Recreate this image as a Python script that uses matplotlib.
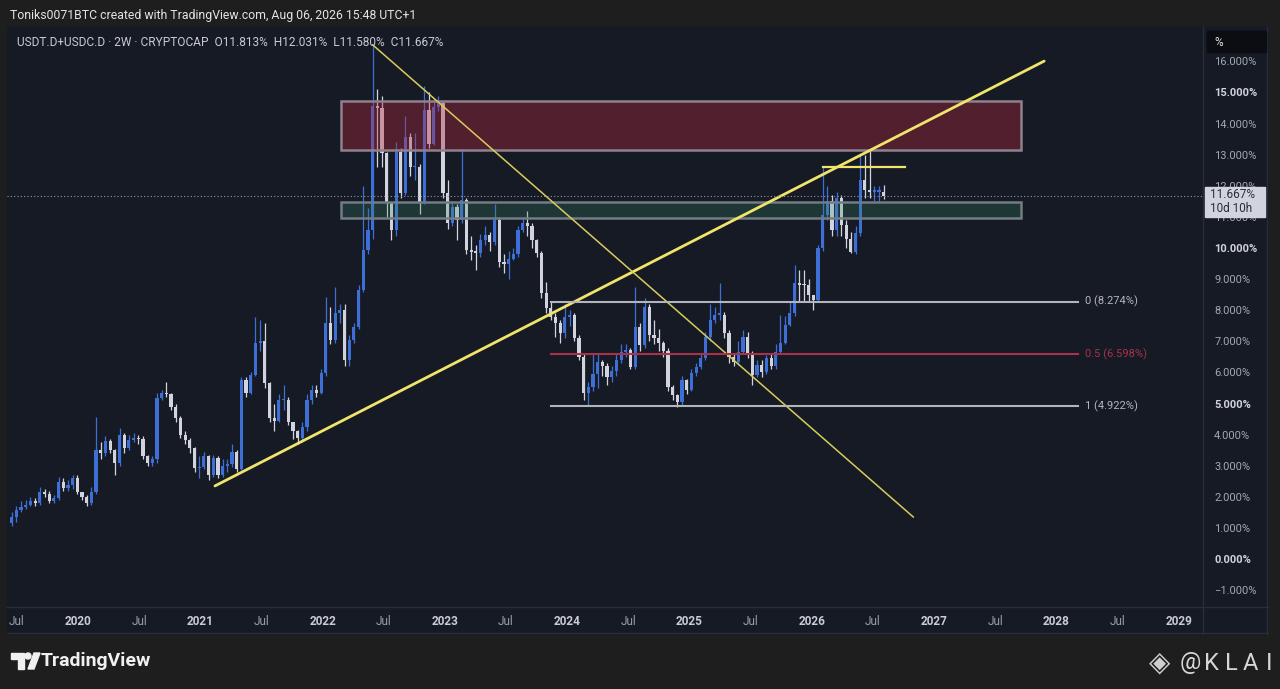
import numpy as np
import pandas as pd
import matplotlib
matplotlib.use("Agg")
import matplotlib.pyplot as plt
from matplotlib.patches import Rectangle, Polygon, Ellipse
from matplotlib.lines import Line2D

plt.rcParams['font.family'] = ['Roboto', 'DejaVu Sans']

# USDT.D + USDC.D, 2W candles (values in %)
first_open = 1.15
close = [
    1.36, 1.58, 1.68, 1.75, 1.85, 1.79, 2.17, 2.10, 1.85, 1.95,
    2.49, 2.27, 2.38, 2.62, 2.17, 2.00, 1.80, 2.17, 3.50, 3.40,
    3.80, 3.50, 3.10, 3.99, 3.56, 3.83, 3.90, 3.85, 3.30, 3.10,
    3.20, 5.17, 5.33, 5.30, 4.90, 4.52, 3.99, 3.83, 3.56, 2.92,
    2.95, 3.30, 2.70, 3.24, 2.70, 3.00, 3.05, 3.45, 2.90, 5.75,
    5.33, 5.92, 6.93, 7.00, 5.65, 4.52, 4.45, 5.10, 5.10, 4.42,
    4.10, 3.90, 4.25, 5.10, 5.44, 5.35, 5.97, 7.58, 7.04, 7.90,
    8.00, 6.40, 7.04, 7.47, 8.65, 9.93, 10.58, 14.55, 14.49, 13.04,
    11.44, 10.58, 13.10, 11.76, 13.58, 12.60, 12.60, 11.44, 14.44, 13.36,
    14.54, 14.65, 11.76, 10.79, 11.33, 10.90, 11.54, 9.93, 9.87, 9.85,
    10.26, 10.42, 10.20, 10.90, 9.56, 9.50, 9.65, 9.80, 10.58, 10.80,
    10.70, 10.26, 9.83, 8.54, 8.06, 7.79, 7.60, 7.26, 7.79, 7.85,
    7.10, 6.50, 5.33, 5.54, 5.95, 6.34, 6.20, 5.86, 6.05, 6.40,
    6.66, 6.72, 6.18, 7.47, 6.88, 8.11, 7.20, 7.10, 6.93, 6.70,
    5.54, 5.27, 5.06, 5.76, 5.45, 5.97, 6.18, 6.45, 7.15, 7.68,
    7.85, 7.85, 7.26, 6.50, 6.34, 6.66, 7.15, 6.60, 5.92, 6.23,
    6.00, 6.45, 6.20, 6.66, 6.93, 7.53, 7.90, 8.86, 8.82, 8.80,
    8.49, 8.33, 9.99, 11.06, 11.50, 10.58, 11.60, 10.74, 10.30, 9.88,
    10.47, 12.19, 11.87, 11.80, 11.80, 11.813, 11.667,
]
high = [
    1.50, 1.70, 1.85, 1.90, 2.00, 1.95, 2.30, 2.25, 2.20, 2.05,
    2.65, 2.60, 2.55, 2.70, 2.70, 2.15, 2.05, 2.30, 4.58, 3.75,
    3.95, 3.85, 3.55, 4.20, 4.05, 4.00, 4.05, 4.00, 3.95, 3.35,
    3.30, 5.33, 5.45, 5.70, 5.35, 5.00, 4.60, 4.10, 3.90, 3.60,
    3.30, 3.45, 3.35, 3.35, 3.30, 3.20, 3.20, 3.70, 3.50, 5.85,
    5.85, 6.00, 7.79, 7.70, 7.60, 5.70, 5.00, 5.30, 5.60, 5.20,
    4.40, 4.15, 4.40, 5.30, 5.60, 5.60, 6.10, 8.43, 8.10, 8.76,
    8.20, 8.20, 7.20, 7.60, 8.80, 12.00, 11.30, 16.50, 15.10, 14.90,
    13.10, 11.40, 13.40, 13.20, 14.25, 13.70, 13.70, 12.70, 15.20, 15.00,
    14.80, 14.90, 14.70, 12.20, 11.50, 11.40, 13.15, 11.60, 10.40, 10.10,
    10.45, 10.70, 10.50, 11.40, 11.00, 9.80, 9.90, 10.00, 10.70, 11.00,
    11.20, 10.80, 10.30, 9.90, 8.90, 8.30, 7.90, 7.70, 8.20, 8.00,
    7.90, 7.20, 6.60, 5.70, 6.60, 6.60, 6.40, 6.30, 6.20, 6.60,
    6.90, 6.90, 6.80, 8.76, 7.60, 8.40, 8.20, 7.70, 7.40, 7.00,
    6.80, 5.60, 5.30, 5.90, 5.80, 6.10, 6.30, 6.60, 7.30, 8.20,
    8.10, 8.86, 7.95, 7.35, 6.60, 7.00, 7.35, 7.30, 6.70, 6.40,
    6.40, 6.55, 6.60, 6.90, 7.85, 7.80, 8.30, 9.45, 9.30, 9.30,
    9.00, 8.50, 10.10, 12.62, 12.00, 11.70, 11.80, 11.70, 10.90, 10.50,
    10.70, 12.99, 13.00, 13.15, 12.00, 12.00, 12.031,
]
low = [
    1.05, 1.20, 1.50, 1.60, 1.70, 1.70, 1.75, 2.00, 1.80, 1.80,
    1.90, 2.20, 2.20, 2.25, 2.10, 1.90, 1.70, 1.75, 2.10, 3.20,
    3.30, 3.40, 2.70, 3.00, 3.40, 3.50, 3.75, 3.70, 3.20, 3.00,
    3.00, 3.10, 5.10, 5.20, 4.80, 4.40, 3.90, 3.70, 3.40, 2.80,
    2.60, 2.90, 2.55, 2.65, 2.60, 2.65, 2.80, 2.95, 2.80, 2.85,
    5.20, 5.30, 5.90, 6.70, 5.50, 4.40, 4.10, 4.40, 4.80, 4.30,
    3.85, 3.70, 3.75, 4.10, 5.00, 5.20, 5.30, 5.90, 6.90, 6.95,
    7.60, 6.20, 6.20, 6.95, 7.40, 8.60, 9.80, 10.30, 12.60, 12.60,
    11.00, 10.25, 10.40, 11.60, 11.70, 12.30, 12.20, 11.10, 11.40, 13.20,
    13.30, 14.40, 11.60, 10.60, 10.70, 10.25, 10.80, 9.80, 9.60, 9.30,
    9.70, 10.10, 9.90, 10.10, 9.40, 9.20, 9.00, 9.60, 9.70, 10.50,
    10.40, 10.00, 9.70, 8.40, 7.90, 7.70, 7.15, 6.95, 7.10, 7.50,
    7.00, 6.40, 5.10, 4.95, 5.40, 5.50, 5.90, 5.60, 5.70, 5.90,
    6.30, 6.50, 6.10, 6.10, 6.70, 6.80, 7.00, 6.90, 6.70, 6.50,
    5.40, 5.10, 4.90, 4.95, 5.30, 5.40, 5.90, 6.10, 6.40, 7.00,
    7.60, 7.70, 7.10, 6.30, 6.20, 6.25, 6.60, 6.45, 5.60, 5.85,
    5.85, 5.95, 6.10, 6.10, 6.60, 6.90, 7.50, 7.80, 8.30, 8.30,
    8.30, 8.00, 8.25, 9.90, 10.90, 10.40, 10.40, 10.40, 10.00, 9.85,
    9.80, 10.40, 11.60, 11.60, 11.50, 11.50, 11.58,
]

# fib levels
fib_levels = [8.274, 6.598, 4.922]
fib_names = ['0 (8.274%)', '0.5 (6.598%)', '1 (4.922%)']

# zones (x in years, y in %)
supply_zone = (2022.15, 2027.71, 13.15, 14.73)
demand_zone = (2022.15, 2027.71, 10.96, 11.48)
rising_line = ([2021.12, 2027.90], [2.35, 16.01])
falling_line = ([2022.41, 2026.83], [16.53, 1.35])
top_line = ([2026.09, 2026.76], [12.6, 12.6])
last_price = 11.667

W, H = 1280, 689
BG = '#161a25'
GRID = '#2a2e39'
BLUE = '#3d6fd6'
WHITE = '#d1d4dc'
YEL = '#f0e46a'


def fx(px):
    return px / W


def fy(py):
    return 1 - py / H


c = np.array(close)
o = np.concatenate([[first_open], c[:-1]])
hi = np.maximum(np.array(high), np.maximum(o, c))
lo = np.minimum(np.array(low), np.minimum(o, c))
dates = pd.date_range('2019-06-17', periods=len(c), freq='14D')
x = 2020 + (dates - pd.Timestamp('2020-01-01')).days.values / 365.25

fig = plt.figure(figsize=(W / 100, H / 100), dpi=100, facecolor='#1e1e1e')
fig.patches.append(Rectangle((fx(7), fy(634)), fx(1268) - fx(7), fy(27) - fy(634),
                             transform=fig.transFigure, color=BG, zorder=-1))

ax = fig.add_axes([fx(7), fy(607), fx(1203) - fx(7), fy(27) - fy(607)])
ax.set_facecolor(BG)
for s in ax.spines.values():
    s.set_visible(False)

# candles
up = c >= o
col = np.where(up, BLUE, WHITE)
ax.vlines(x, lo, hi, colors=col, lw=0.9, zorder=2)
body = np.maximum(np.abs(c - o), 0.05)
ax.bar(x, body, bottom=np.minimum(o, c), width=0.026, color=col, zorder=3)

# zones
x0, x1, y0, y1 = supply_zone
ax.add_patch(Rectangle((x0, y0), x1 - x0, y1 - y0, facecolor=(0.72, 0.16, 0.25, 0.37),
                       edgecolor='#8f818d', lw=1.8, zorder=4))
x0, x1, y0, y1 = demand_zone
ax.add_patch(Rectangle((x0, y0), x1 - x0, y1 - y0, facecolor=(0.24, 0.55, 0.43, 0.25),
                       edgecolor='#737b84', lw=1.8, zorder=4))

# trend lines
ax.plot(*rising_line, color=YEL, lw=2, zorder=5, solid_capstyle='round')
ax.plot(*falling_line, color='#d8cc5c', lw=1.1, zorder=5)
ax.plot(*top_line, color=YEL, lw=1.6, zorder=5)

# fib retracement
fib_cols = ['#b2b5be', '#a8324a', '#b2b5be']
for lvl, name, fc in zip(fib_levels, fib_names, fib_cols):
    ax.plot([2023.867, 2028.177], [lvl, lvl], color=fc, lw=1.5, zorder=5)
    ax.text(2028.234, lvl, name, color=fc, fontsize=8, va='center', zorder=6)

ax.axhline(last_price, color='#9598a1', lw=0.8, ls=(0, (1, 2)), zorder=5)

ax.set_xlim(2019.4195, 2029.1986)
ax.set_ylim(-1.543, 17.106)

# x axis
xt, xl = [], []
for yr in range(2019, 2029):
    xt += [yr + 0.5, yr + 1]
    xl += ['Jul', str(yr + 1)]
ax.set_xticks(xt)
ax.set_xticklabels(xl)
ax.tick_params(axis='x', length=0, pad=6, labelsize=8.5, labelcolor='#9a9ea8')
for lab in ax.get_xticklabels():
    if lab.get_text() != 'Jul':
        lab.set_fontweight('bold')
        lab.set_color('#c9ccd4')

# y axis on the right
yt = np.arange(-1, 17)
ax.yaxis.tick_right()
ax.set_yticks(yt)
ax.set_yticklabels([f'{v:.3f}%'.replace('-', '\u2212') for v in yt])
ax.tick_params(axis='y', length=0, pad=8, labelsize=8, labelcolor='#a3a7b0')
for lab, v in zip(ax.get_yticklabels(), yt):
    if v % 5 == 0:
        lab.set_fontweight('bold')
        lab.set_color('#d1d4dc')

# panel separators
for xs, ys in [((1203, 1203), (27, 634)), ((7, 1268), (607, 607)), ((7, 1268), (633, 633)),
               ((1267, 1267), (27, 634))]:
    fig.add_artist(Line2D([fx(xs[0]), fx(xs[1])], [fy(ys[0]), fy(ys[1])],
                          transform=fig.transFigure, color=GRID, lw=1))

# "%" box and last price tag
fig.patches.append(Rectangle((fx(1207), fy(52)), fx(1266) - fx(1207), fy(31) - fy(52),
                             transform=fig.transFigure, color='#0b0d12', zorder=2))
fig.text(fx(1214), fy(42), '%', color='#e6e6e6', fontsize=8.5, va='center')
fig.patches.append(Rectangle((fx(1205), fy(217)), fx(1265) - fx(1205), fy(187) - fy(217),
                             transform=fig.transFigure, color='#d1d4dc', zorder=2))
fig.text(fx(1210), fy(195), '11.667%', color='#2a2e39', fontsize=8.5, va='center')
fig.text(fx(1210), fy(209), '10d 10h', color='#2a2e39', fontsize=8.5, va='center')

# header / legend
fig.text(fx(10), fy(16), 'Toniks0071BTC created with TradingView.com, Aug 06, 2026 15:48 UTC+1',
         color='#e4e4e4', fontsize=8.8, va='center')
fig.text(fx(17), fy(42), 'USDT.D+USDC.D \u00b7 2W \u00b7 CRYPTOCAP  O11.813%  H12.031%  L11.580%  C11.667%',
         color='#c8cbd3', fontsize=8.6, va='center')

# footer: TradingView logo + @KLAI
tr = fig.transFigure
fig.patches.append(Polygon([(fx(11), fy(653)), (fx(24), fy(653)), (fx(24), fy(669)),
                            (fx(18), fy(669)), (fx(18), fy(659)), (fx(11), fy(659))],
                           closed=True, transform=tr, color='#f0f0f0'))
fig.patches.append(Ellipse((fx(28), fy(656)), 6 / W, 6 / H, transform=tr, color='#f0f0f0'))
fig.patches.append(Polygon([(fx(28), fy(669)), (fx(34), fy(669)), (fx(40), fy(653)),
                            (fx(34), fy(653))], closed=True, transform=tr, color='#f0f0f0'))
fig.text(fx(41), fy(661), 'TradingView', color='#f0f0f0', fontsize=14, fontweight='semibold',
         va='center')

fig.text(fx(1160), fy(663), '\u25c8', color='#cfcfcf', fontsize=20, ha='center', va='center',
         family=['DejaVu Sans'])
for ch, px in zip('@KLAI', [1190, 1211, 1231, 1250, 1269]):
    fig.text(fx(px), fy(663), ch, color='#d6d6d6', fontsize=17, ha='center', va='center')

fig.savefig('out.png', dpi=100, facecolor=fig.get_facecolor())
